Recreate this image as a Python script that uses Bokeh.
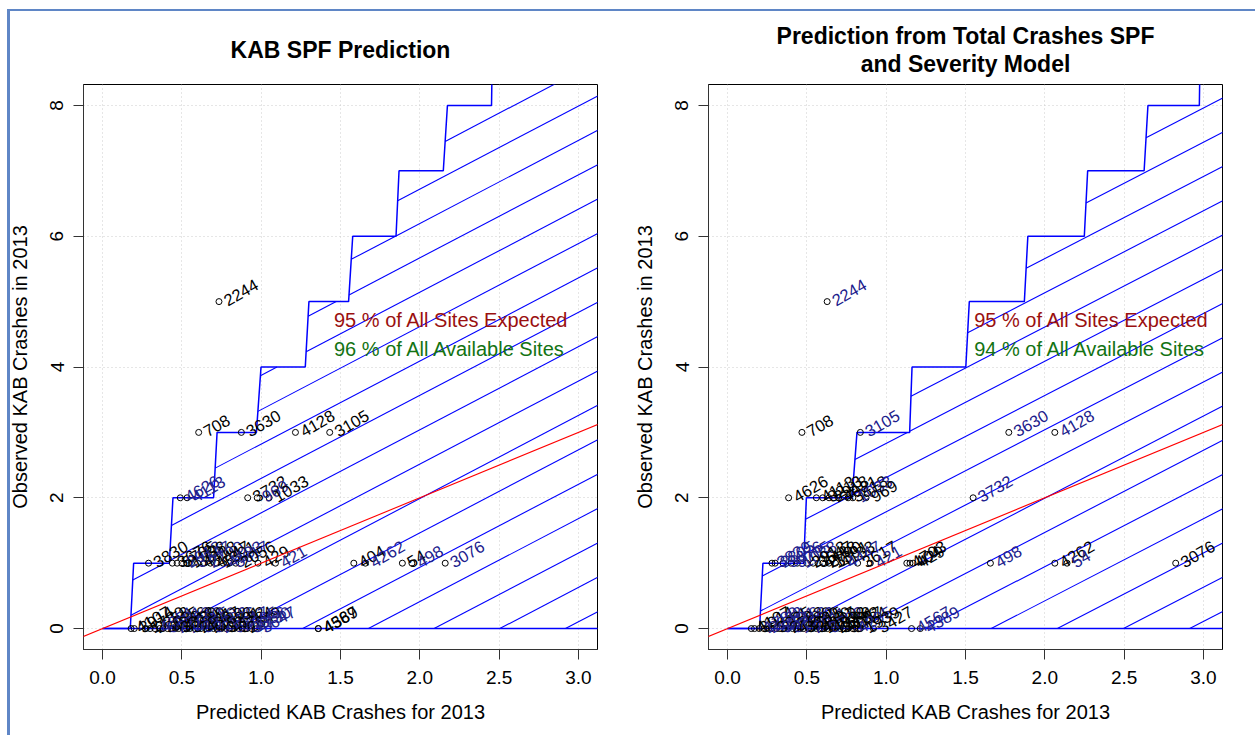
import numpy as np
from bokeh.plotting import figure
from bokeh.layouts import row
from bokeh.models import Range1d, FixedTicker, Label, ColumnDataSource, Slope, Title
from bokeh.core.properties import value
from bokeh.embed import file_html
from bokeh.resources import INLINE

FONT = "Liberation Sans"
BLUE_TXT = "#20208c"
FRAME_BLUE = "#5f86c6"

# ---------------- data ----------------
x_ticks = [0.0, 0.5, 1.0, 1.5, 2.0, 2.5, 3.0]
x_tick_labels = ["0.0", "0.5", "1.0", "1.5", "2.0", "2.5", "3.0"]
y_ticks = [0, 2, 4, 6, 8]
y_tick_labels = ["0", "2", "4", "6", "8"]

titles = [["KAB SPF Prediction"], ["Prediction from Total Crashes SPF", "and Severity Model"]]
x_title = "Predicted KAB Crashes for 2013"
y_title = "Observed KAB Crashes in 2013"
pct_expected = [95, 95]
pct_available = [96, 94]

# step boundary (upper 95% limit): x where each riser starts / ends, level k -> k+1
left_riser_lo = [0.175, 0.421, 0.700, 0.970, 1.278, 1.551, 1.850, 2.148, 2.452]
left_riser_hi = [0.196, 0.444, 0.722, 0.999, 1.301, 1.577, 1.869, 2.174, 2.458]
right_riser_lo = [0.202, 0.480, 0.785, 1.148, 1.502, 1.871, 2.249, 2.626, 2.974]
right_riser_hi = [0.223, 0.497, 0.816, 1.163, 1.524, 1.893, 2.270, 2.650, 2.980]

# sites: left panel (KAB SPF)
left_pred = [0.734,
             0.606, 0.875, 1.216, 1.432,
             0.490, 0.533, 0.915, 0.975, 1.050,
             0.29, 0.44, 0.47, 0.50, 0.53, 0.56, 0.60, 0.64, 0.68, 0.72, 0.76, 0.80, 0.84,
             0.98, 1.09, 1.584, 1.657, 1.89, 1.95, 2.16,
             0.18, 0.20, 0.27, 0.30, 0.33, 0.36, 0.38, 0.41, 0.44, 0.46, 0.48, 0.51, 0.53,
             0.55, 0.58, 0.60, 0.62, 0.65, 0.67, 0.70, 0.72, 0.75, 0.78, 0.80, 0.83, 0.86,
             0.88, 0.91, 0.94, 0.97, 1.36, 1.36]
left_obs = [5,
            3, 3, 3, 3,
            2, 2, 2, 2, 2,
            1, 1, 1, 1, 1, 1, 1, 1, 1, 1, 1, 1, 1,
            1, 1, 1, 1, 1, 1, 1,
            0, 0, 0, 0, 0, 0, 0, 0, 0, 0, 0, 0, 0,
            0, 0, 0, 0, 0, 0, 0, 0, 0, 0, 0, 0, 0,
            0, 0, 0, 0, 0, 0]
left_site = ["2244",
             "708", "3630", "4128", "3105",
             "4626", "4113", "3732", "969", "1033",
             "3830", "3676", "5705", "2913", "1088", "3547", "4418", "2790", "4447", "1391", "4133", "3617", "2056",
             "429", "421", "404", "4262", "54", "498", "3076",
             "4107", "3914", "1730", "2258", "4351", "3025", "5591", "4046", "2763", "3318", "4480", "1602", "3869",
             "4215", "2911", "3540", "4667", "1189", "3702", "4023", "2586", "3391", "4132", "5017", "3784", "4295",
             "2649", "3056", "4730", "3647", "4567", "4389"]
left_blue = [0,
             0, 0, 0, 0,
             1, 1, 0, 1, 0,
             0, 0, 0, 1, 0, 1, 0, 1, 0, 0, 1, 1, 0,
             0, 1, 0, 1, 0, 1, 1,
             0, 0, 0, 0, 1, 0, 1, 0, 1, 0, 0, 1, 0,
             1, 0, 1, 0, 0, 1, 0, 1, 0, 0, 1, 0, 1,
             0, 1, 1, 1, 0, 0]

# sites: right panel (total SPF + severity model)
right_pred = [0.628,
              0.469, 0.837, 1.773, 2.063,
              0.385, 0.56, 0.60, 0.64, 0.70, 0.76, 0.79, 0.873, 1.548,
              0.28, 0.30, 0.35, 0.40, 0.44, 0.50, 0.54, 0.57, 0.60, 0.64, 0.68, 0.72, 0.82, 0.90,
              1.13, 1.15, 1.17, 1.657, 2.063, 2.14, 2.825,
              0.15, 0.17, 0.20, 0.23, 0.26, 0.28, 0.31, 0.33, 0.36, 0.38, 0.41, 0.43, 0.46,
              0.48, 0.51, 0.53, 0.56, 0.58, 0.61, 0.63, 0.66, 0.68, 0.71, 0.73, 0.76, 0.79,
              0.837, 0.92, 1.16, 1.215]
right_obs = [5,
             3, 3, 3, 3,
             2, 2, 2, 2, 2, 2, 2, 2, 2,
             1, 1, 1, 1, 1, 1, 1, 1, 1, 1, 1, 1, 1, 1,
             1, 1, 1, 1, 1, 1, 1,
             0, 0, 0, 0, 0, 0, 0, 0, 0, 0, 0, 0, 0,
             0, 0, 0, 0, 0, 0, 0, 0, 0, 0, 0, 0, 0,
             0, 0, 0, 0]
right_site = ["2244",
              "708", "3105", "3630", "4128",
              "4626", "4113", "3213", "2918", "4021", "3818", "1033", "969", "3732",
              "3830", "2805", "3676", "5705", "1088", "2913", "3547", "4418", "2790", "1391", "4133", "4447", "3617", "421",
              "4703", "404", "429", "498", "4262", "54", "3076",
              "4107", "3914", "1730", "2258", "4351", "3025", "5591", "4046", "2763", "3318", "4480", "1602", "3869",
              "4215", "2911", "3540", "4667", "1189", "3702", "4023", "2586", "3391", "4132", "5017", "3784", "4295",
              "1939", "3427", "4567", "4389"]
right_blue = [1,
              0, 1, 1, 1,
              0, 0, 0, 0, 0, 0, 1, 0, 1,
              1, 1, 1, 1, 1, 0, 0, 0, 0, 0, 0, 1, 0, 1,
              0, 0, 0, 1, 0, 1, 0,
              0, 0, 1, 1, 1, 0, 1, 1, 0, 1, 0, 1, 0,
              0, 1, 0, 0, 0, 1, 0, 0, 0, 0, 0, 0, 1,
              0, 0, 1, 1]

X_RANGE = (-0.12, 3.12)
Y_RANGE = (-0.32, 8.32)
XMAX = 3.6


def step_path(lo, hi):
    ux, uy = [0.0], [0.0]
    for k, (a, b) in enumerate(zip(lo, hi)):
        ux += [a, b]
        uy += [k, k + 1]
    ux.append(XMAX)
    uy.append(len(lo))
    return ux, uy


def hatch(ux, uy, slope, spacing, phase):
    px = np.array(ux + [XMAX, 0.0])
    py = np.array(uy + [0.0, 0.0])
    xs, ys = [], []
    for k in range(-30, 30):
        c = -slope * (phase + spacing * k) + 1e-9
        f = py - slope * px - c
        hits = []
        for i in range(len(px) - 1):
            f0, f1 = f[i], f[i + 1]
            if (f0 > 0) != (f1 > 0):
                t = f0 / (f0 - f1)
                hits.append(px[i] + t * (px[i + 1] - px[i]))
        hits.sort()
        for j in range(0, len(hits) - 1, 2):
            a, b = hits[j], hits[j + 1]
            xs.append([a, b])
            ys.append([slope * a + c, slope * b + c])
    return xs, ys


FRAME_W, FRAME_H = 514, 565
MB_TOP, MB_BOTTOM = 84, 86


def make_panel(idx, lo, hi, pred, obs, site, blue, hatch_par, txt_x, mb_left, mb_right,
               title_standoffs):
    p = figure(width=mb_left + FRAME_W + mb_right, height=MB_TOP + FRAME_H + MB_BOTTOM,
               x_range=Range1d(*X_RANGE), y_range=Range1d(*Y_RANGE),
               output_backend="svg", toolbar_location=None, title=None,
               min_border_left=mb_left, min_border_right=mb_right,
               min_border_top=MB_TOP, min_border_bottom=MB_BOTTOM)
    p.background_fill_color = "white"
    p.border_fill_color = None
    p.outline_line_color = "black"
    p.outline_line_width = 1

    xt = FixedTicker(ticks=x_ticks)
    yt = FixedTicker(ticks=y_ticks)
    p.xaxis.ticker = xt
    p.yaxis.ticker = yt
    p.xaxis.major_label_overrides = dict(zip(x_ticks, x_tick_labels))
    p.yaxis.major_label_overrides = dict(zip(y_ticks, y_tick_labels))
    for ax in (p.xaxis[0], p.yaxis[0]):
        ax.major_label_text_font = FONT
        ax.major_label_text_font_size = "19px"
        ax.major_label_text_color = "black"
        ax.major_tick_out = 10
        ax.major_tick_in = 0
        ax.minor_tick_line_color = None
        ax.axis_line_color = "#333333"
        ax.major_tick_line_color = "#333333"
        ax.axis_label_text_font = FONT
        ax.axis_label_text_font_size = "20px"
        ax.axis_label_text_font_style = "normal"
        ax.axis_label_text_color = "black"
    p.xaxis.major_label_standoff = 11
    p.xaxis.axis_label_standoff = 14
    p.yaxis.major_label_standoff = 10
    p.yaxis.axis_label_standoff = 17
    p.xaxis.axis_label = x_title
    p.yaxis.axis_label = y_title
    p.yaxis.major_label_orientation = "vertical"
    p.xgrid.ticker = xt
    p.ygrid.ticker = yt
    for g in (p.xgrid[0], p.ygrid[0]):
        g.grid_line_color = "#cccccc"
        g.grid_line_dash = "1 3"
        g.grid_line_width = 1

    ux, uy = step_path(lo, hi)
    hx, hy = hatch(ux, uy, *hatch_par)
    p.multi_line(hx, hy, line_color="#0000ff", line_width=1.1)
    p.line(ux, uy, line_color="#0000ff", line_width=1.5)
    p.line([0.0, XMAX], [0.0, 0.0], line_color="#0000ff", line_width=1.6)
    p.add_layout(Slope(gradient=1, y_intercept=0, line_color="#ff0000", line_width=1.1))

    src = ColumnDataSource(dict(x=pred, y=obs, t=site,
                                c=[BLUE_TXT if b else "black" for b in blue]))
    p.scatter("x", "y", source=src, marker="circle", size=6, fill_color=None,
              line_color="black", line_width=1)
    p.text("x", "y", text="t", source=src, angle=np.deg2rad(30), text_align="left",
           text_baseline="middle", x_offset=6, text_color="c",
           text_font=value(FONT), text_font_size="16.5px")

    p.add_layout(Label(x=txt_x, y=4.72, text=f"{pct_expected[idx]} % of All Sites Expected",
                       text_color="#9a1010", text_font=FONT, text_font_size="20px",
                       text_baseline="middle", text_align="left"))
    p.add_layout(Label(x=txt_x, y=4.28, text=f"{pct_available[idx]} % of All Available Sites",
                       text_color="#137313", text_font=FONT, text_font_size="20px",
                       text_baseline="middle", text_align="left"))

    # title lines: the first one added sits closest to the frame
    for t, s in zip(reversed(titles[idx]), title_standoffs):
        p.add_layout(Title(text=t, align="center", text_font=FONT, text_font_size="23px",
                           text_font_style="bold", text_color="black", standoff=s), "above")
    return p


p1 = make_panel(0, left_riser_lo, left_riser_hi, left_pred, left_obs, left_site, left_blue,
                (1.27, 0.414, 0.02), 1.459, 83, 26, [43])
p2 = make_panel(1, right_riser_lo, right_riser_hi, right_pred, right_obs, right_site, right_blue,
                (1.255, 0.417, -0.006), 1.555, 85, 33, [16, -17])

layout = row(p1, p2, spacing=0,
             styles={"background-image": f"linear-gradient({FRAME_BLUE}, {FRAME_BLUE}), "
                                         f"linear-gradient({FRAME_BLUE}, {FRAME_BLUE})",
                     "background-size": "3px 100%, 100% 2px",
                     "background-position": "7px 9px, 7px 9px",
                     "background-repeat": "no-repeat"})

open("out.html", "w").write(file_html(layout, INLINE))
